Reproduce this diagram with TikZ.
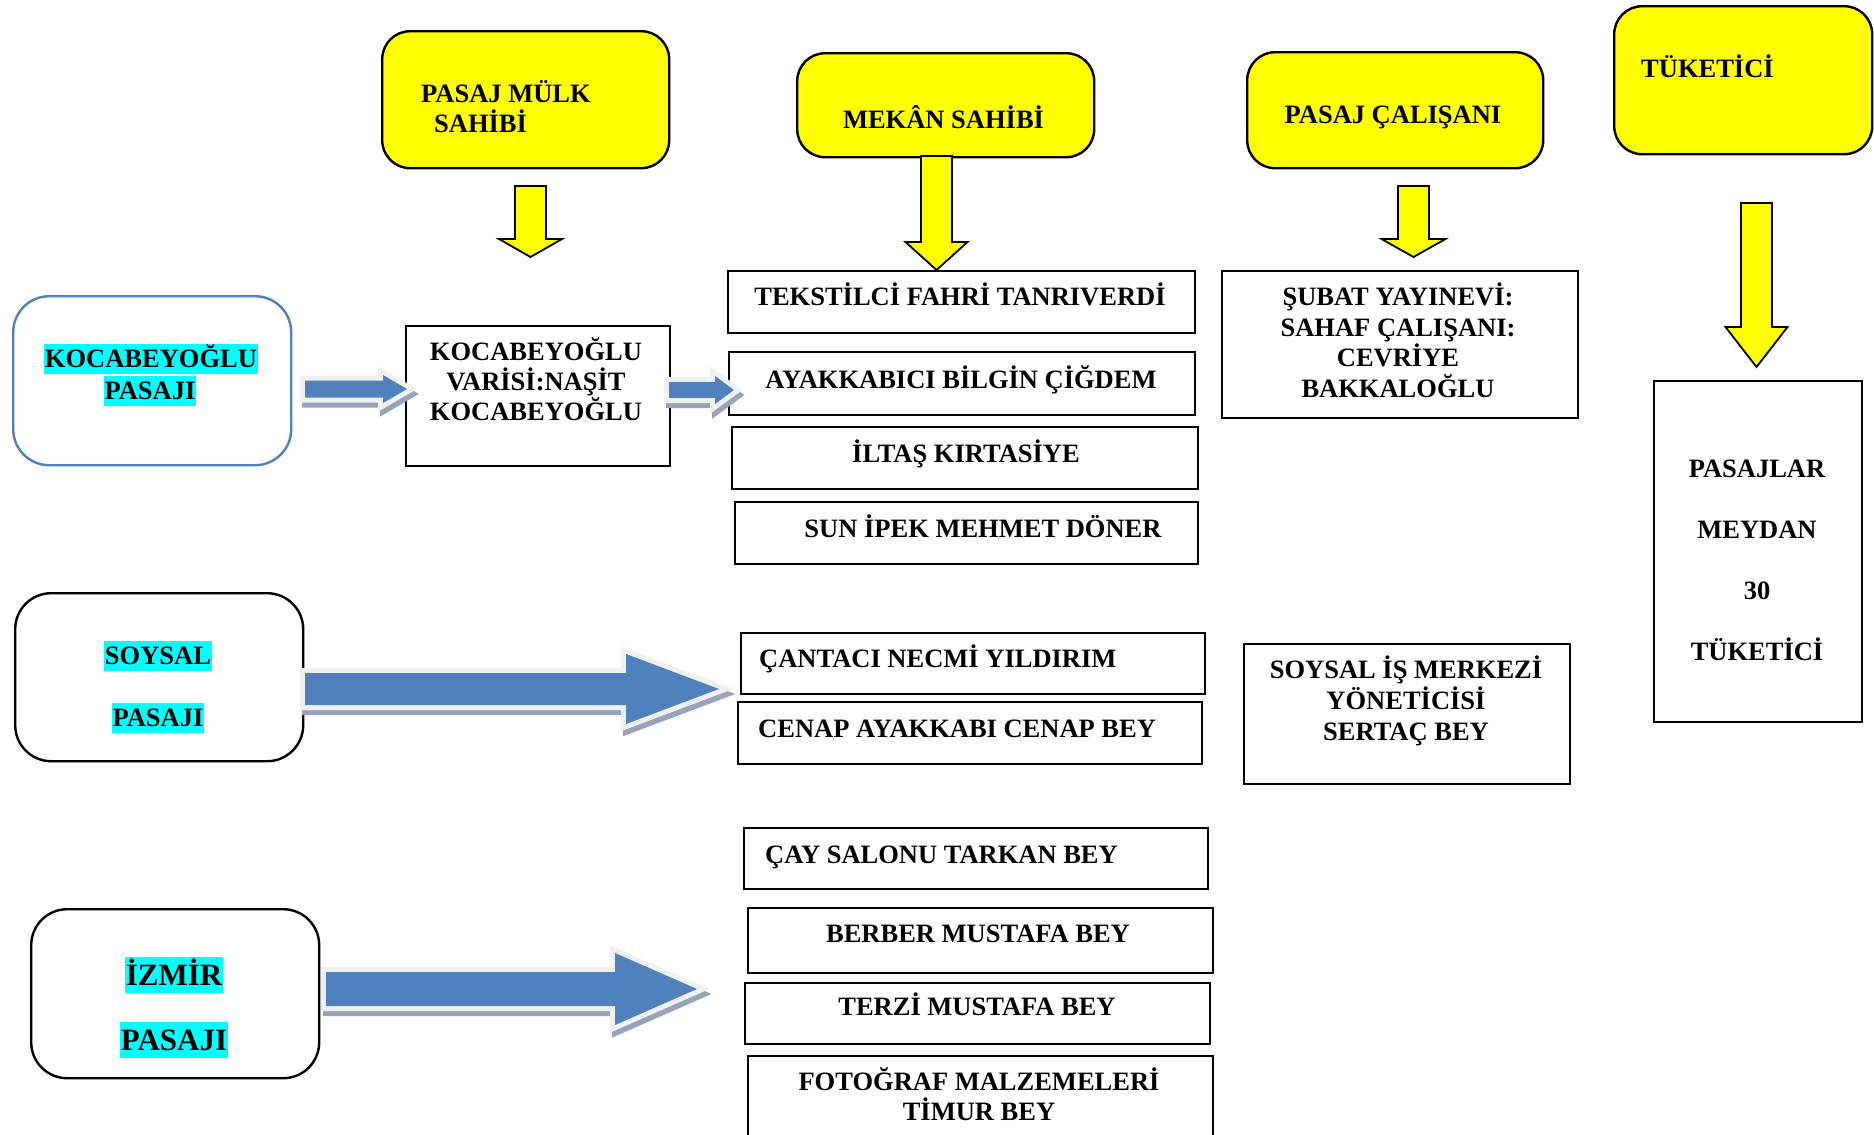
\documentclass[tikz,border=0pt]{standalone}
\usepackage{fontspec}
\setmainfont{Liberation Serif}
\definecolor{ablue}{RGB}{79,129,189}
\definecolor{aglow}{RGB}{240,240,240}
\definecolor{ashadow}{RGB}{150,163,185}
\definecolor{kblue}{RGB}{79,129,189}
\definecolor{hlcyan}{RGB}{0,255,255}
\definecolor{ylw}{RGB}{255,255,0}
\newcommand\tf{\fontsize{26.5}{31}\selectfont\bfseries}
\newcommand\tfb{\fontsize{31}{36}\selectfont\bfseries}
\tikzset{
  box/.style={draw=black, line width=2.4pt, fill=white, inner sep=0pt, anchor=north west},
  ybox/.style={draw=black, line width=2.4pt, fill=ylw, rounded corners=28pt, inner sep=0pt, anchor=north west},
  rbox/.style={draw=black, line width=2.4pt, fill=white, rounded corners=36pt, inner sep=0pt, anchor=north west},
  txt/.style={inner sep=0pt, anchor=base, font=\tf},
  txtl/.style={inner sep=0pt, anchor=base west, font=\tf},
  hl/.style={fill=hlcyan, inner xsep=1pt, inner ysep=0pt, text height=23pt, text depth=7pt, anchor=base, font=\tf},
  hlb/.style={fill=hlcyan, inner xsep=1pt, inner ysep=0pt, text height=28pt, text depth=8pt, anchor=base, font=\tfb},
  yarrow/.style={draw=black, line width=1.8pt, fill=ylw, line join=miter},
}
% yellow down arrow: cx, ytop, yhead, ytip, shaft half, head half
\newcommand\ydown[6]{%
  \draw[yarrow] ({#1-#5},#2) -- ({#1+#5},#2) -- ({#1+#5},#3) -- ({#1+#6},#3) -- (#1,#4)
    -- ({#1-#6},#3) -- ({#1-#5},#3) -- cycle;}
% blue block arrow: x0, xhead, xtip, yc, shaft half, head half
\newcommand\barrow[6]{%
  \draw[ashadow, fill=ashadow, line width=10pt, line join=miter, shift={(2,5)}]
    (#1,{#4-#5}) -- (#2,{#4-#5}) -- (#2,{#4-#6}) -- (#3,#4) -- (#2,{#4+#6}) -- (#2,{#4+#5}) -- (#1,{#4+#5}) -- cycle;
  \draw[aglow, fill=aglow, line width=10pt, line join=miter]
    (#1,{#4-#5}) -- (#2,{#4-#5}) -- (#2,{#4-#6}) -- (#3,#4) -- (#2,{#4+#6}) -- (#2,{#4+#5}) -- (#1,{#4+#5}) -- cycle;
  \fill[ablue]
    (#1,{#4-#5}) -- (#2,{#4-#5}) -- (#2,{#4-#6}) -- (#3,#4) -- (#2,{#4+#6}) -- (#2,{#4+#5}) -- (#1,{#4+#5}) -- cycle;}
\begin{document}
\begin{tikzpicture}[x=1pt, y=-1pt]
\useasboundingbox[fill=white] (0,0) rectangle (1874,1135);

% ---- yellow header boxes
\node[ybox, minimum width=287pt, minimum height=137pt] (mulk) at (381,30) {};
\node[ybox, minimum width=297pt, minimum height=104pt] (mekan) at (796,52) {};
\node[ybox, minimum width=296pt, minimum height=116pt] (calisan) at (1246,51) {};
\node[ybox, minimum width=258pt, minimum height=148pt] (tuketici) at (1613,5) {};
\node[txtl] (mulkt1) at (421,102) {PASAJ MÜLK};
\node[txtl] (mulkt2) at (434,132) {SAHİBİ};
\node[txt] (mekant) at (943.5,128) {MEKÂN SAHİBİ};
\node[txt] (calisant) at (1393,123) {PASAJ ÇALIŞANI};
\node[txtl] (tuketicit) at (1641,77) {TÜKETİCİ};

% ---- yellow arrows
\ydown{530.5}{186}{239}{257}{15.5}{31.5}
\ydown{936.5}{156}{242}{270}{15.5}{31}
\ydown{1413.5}{186}{239}{257}{15.5}{32}
\ydown{1756.5}{203}{327}{367}{15.5}{31}

% ---- left rounded boxes
\node[rbox, draw=kblue, minimum width=278pt, minimum height=169pt] (kpas) at (12,295) {};
\node[rbox, minimum width=288pt, minimum height=168pt] (spas) at (14,592) {};
\node[rbox, minimum width=288pt, minimum height=169pt] (ipas) at (30,908) {};
\node[hl] (kpas1) at (151,367) {KOCABEYOĞLU};
\node[hl] (kpas2) at (150,399) {PASAJI};
\node[hl] (spas1) at (158,664) {SOYSAL};
\node[hl] (spas2) at (158,726) {PASAJI};
\node[hlb] (ipas1) at (174,985) {İZMİR};
\node[hlb] (ipas2) at (174,1050) {PASAJI};

% ---- white boxes
\node[box, minimum width=264pt, minimum height=140pt] (varisi) at (405,325) {};
\node[txt] (varisi1) at (536,360) {KOCABEYOĞLU};
\node[txt] (varisi2) at (536,390) {VARİSİ:NAŞİT};
\node[txt] (varisi3) at (536,420) {KOCABEYOĞLU};

\node[box, minimum width=467pt, minimum height=62pt] (tek) at (727,270) {};
\node[txt] (tekt) at (960,305) {TEKSTİLCİ FAHRİ TANRIVERDİ};
\node[box, minimum width=466pt, minimum height=63pt] (ayak) at (728,351) {};
\node[txt] (ayakt) at (961,388) {AYAKKABICI BİLGİN ÇİĞDEM};
\node[box, minimum width=466pt, minimum height=62pt] (iltas) at (731,426) {};
\node[txt] (iltast) at (966,462) {İLTAŞ KIRTASİYE};
\node[box, minimum width=463pt, minimum height=62pt] (sun) at (734,501) {};
\node[txt] (sunt) at (983,537) {SUN İPEK MEHMET DÖNER};

\node[box, minimum width=356pt, minimum height=147pt] (subat) at (1221,270) {};
\node[txt] (subat1) at (1398,305) {ŞUBAT YAYINEVİ:};
\node[txt] (subat2) at (1398,336) {SAHAF ÇALIŞANI:};
\node[txt] (subat3) at (1398,366) {CEVRİYE};
\node[txt] (subat4) at (1398,397) {BAKKALOĞLU};

\node[box, minimum width=208pt, minimum height=341pt] (pasajlar) at (1653,380) {};
\node[txt] (pasajlar1) at (1757,477) {PASAJLAR};
\node[txt] (pasajlar2) at (1757,538) {MEYDAN};
\node[txt] (pasajlar3) at (1757,599) {30};
\node[txt] (pasajlar4) at (1757,660) {TÜKETİCİ};

\node[box, minimum width=464pt, minimum height=61pt] (canta) at (740,632) {};
\node[txtl] (cantat) at (759,667) {ÇANTACI NECMİ YILDIRIM};
\node[box, minimum width=464pt, minimum height=62pt] (cenap) at (737,701) {};
\node[txtl] (cenapt) at (758,737) {CENAP AYAKKABI CENAP BEY};

\node[box, minimum width=326pt, minimum height=140pt] (soyis) at (1243,643) {};
\node[txt] (soyis1) at (1406,678) {SOYSAL İŞ MERKEZİ};
\node[txt] (soyis2) at (1406,709) {YÖNETİCİSİ};
\node[txt] (soyis3) at (1406,740) {SERTAÇ BEY};

\node[box, minimum width=464pt, minimum height=61pt] (cay) at (743,827) {};
\node[txtl] (cayt) at (765,863) {ÇAY SALONU TARKAN BEY};
\node[box, minimum width=465pt, minimum height=65pt] (berber) at (747,907) {};
\node[txt] (berbert) at (978,942) {BERBER MUSTAFA BEY};
\node[box, minimum width=465pt, minimum height=61pt] (terzi) at (744,982) {};
\node[txt] (terzit) at (977,1015) {TERZİ MUSTAFA BEY};
\node[box, minimum width=465pt, minimum height=110pt] (foto) at (747,1055) {};
\node[txt] (foto1) at (979,1090) {FOTOĞRAF MALZEMELERİ};
\node[txt] (foto2) at (979,1120) {TİMUR BEY};

% ---- blue block arrows
\barrow{305}{383}{407}{389}{8.5}{14}
\barrow{669}{715}{734}{390}{8}{14}
\barrow{305}{626}{719}{689}{16}{35}
\barrow{326}{615}{697}{989}{17}{36}
\end{tikzpicture}
\end{document}
